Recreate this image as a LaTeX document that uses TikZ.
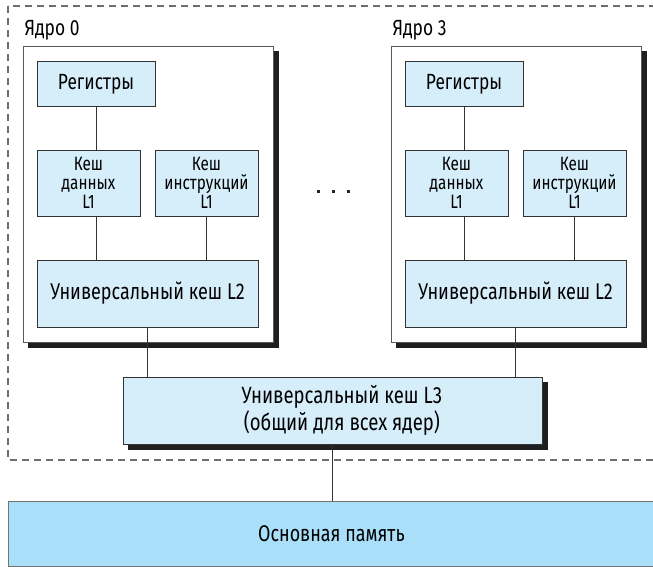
\documentclass[tikz,border=0pt]{standalone}
\usepackage{fontspec}
\setmainfont{Fira Sans}[FakeStretch=0.79]
\usetikzlibrary{backgrounds,calc}

\definecolor{cachefill}{RGB}{214,237,250}
\definecolor{memfill}{RGB}{169,223,248}
\definecolor{boxline}{RGB}{51,51,51}
\definecolor{dashline}{RGB}{110,110,110}

\tikzset{every picture/.style={line width=0.75pt},
  cache/.style={draw=boxline, fill=cachefill, inner sep=0pt, align=center,
    font=\fontsize{16.5}{16}\selectfont},
  corebox/.style={draw=black!65, fill=white, inner sep=0pt,
    minimum width=187.5pt, minimum height=221.25pt},
  corelabel/.style={anchor=base west, inner sep=0pt, font=\fontsize{16.5}{16}\selectfont},
  shade/.style={fill=black!88},
  link/.style={draw=boxline}
}

\begin{document}
\begin{tikzpicture}[x=0.75pt,y=0.75pt,yscale=-1,xscale=1]
	\useasboundingbox (0,0) rectangle (653,567);

	% two cores, the second one shifted by 368
	\foreach \c/\dx in {0/0,3/368}{
		\node[corebox] (core\c) at (148+\dx,194.5) {};
		\node[corelabel] (lab\c) at (24+\dx,36) {Ядро \c};
		\node[cache, minimum width=88.5pt, minimum height=33pt] (reg\c) at (96+\dx,84) {Регистры};
		\node[cache, minimum width=77.25pt, minimum height=49.5pt, font=\fontsize{14.5}{14}\selectfont] (dc\c) at (88.5+\dx,183) {Кеш\\данных\\L1};
		\node[cache, minimum width=77.25pt, minimum height=49.5pt, font=\fontsize{14.5}{14}\selectfont] (ic\c) at (206.5+\dx,183) {Кеш\\инструкций\\L1};
		\node[cache, minimum width=165.75pt, minimum height=50.25pt, font=\fontsize{17.1}{18}\selectfont] (ltwo\c) at (147.5+\dx,293.5) {Универсальный кеш L2};
		% links inside the core
		\draw[link] (reg\c.south) -- (reg\c.south |- dc\c.north);
		\draw[link] (reg\c.south |- dc\c.south) -- (reg\c.south |- ltwo\c.north);
		\draw[link] (ic\c.south) -- (ic\c.south |- ltwo\c.north);
	}

	% shared L3 and main memory
	\node[cache, minimum width=314.25pt, minimum height=50.25pt,
		font=\fontsize{17.6}{18.5}\selectfont] (lthree) at (332.5,410.5)
		{\hspace*{14pt}Универсальный кеш L3\\\hspace*{14pt}(общий для всех ядер)};
	\node[draw=black!55, fill=memfill, inner sep=0pt, minimum width=485.25pt, minimum height=48.75pt,
		font=\fontsize{17}{18}\selectfont] (mem) at (331.5,533.5) {Основная память};

	\draw[link] (ltwo0.south) -- (ltwo0.south |- lthree.north);
	\draw[link] (ltwo3.south) -- (ltwo3.south |- lthree.north);
	\draw[link] (lthree.south) -- (lthree.south |- mem.north);

	% dots between the cores
	\foreach \x in {318,333,348}
		\fill[black!85] (\x-1.5,189.5) rectangle +(3,3);

	% dashed chip border and shadows
	\begin{scope}[on background layer]
		\draw[dashline, line width=1.1pt, dash pattern={on 5pt off 4pt}] (8,6) rectangle (670,460);
		\fill[shade] ($(core0.south west)+(5,5)$) rectangle ($(core0.north east)+(5,5)$);
		\fill[shade] ($(core3.south west)+(5,5)$) rectangle ($(core3.north east)+(5,5)$);
		\fill[shade] ($(lthree.south west)+(5,5)$) rectangle ($(lthree.north east)+(5,5)$);
	\end{scope}
\end{tikzpicture}
\end{document}
